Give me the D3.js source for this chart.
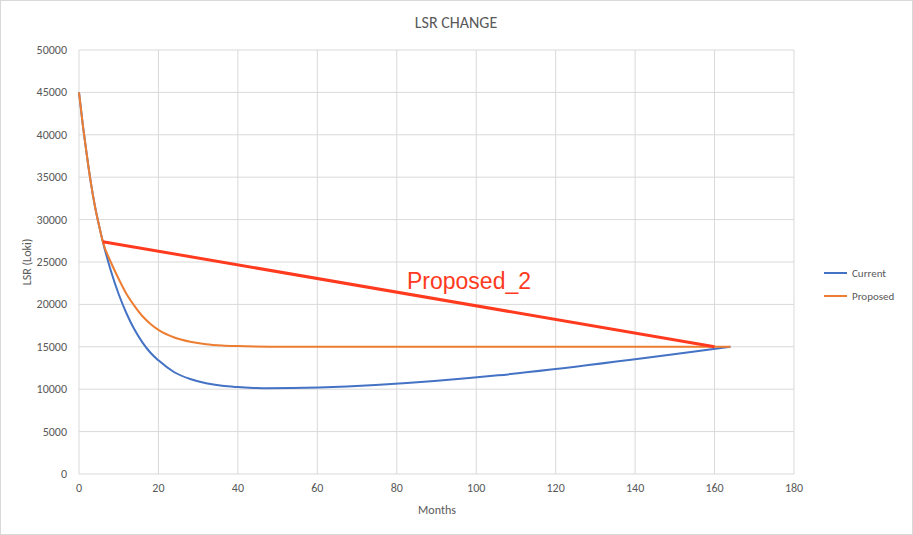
<!DOCTYPE html>
<html><head><meta charset="utf-8">
<script src="https://cdn.jsdelivr.net/npm/d3@7"></script>
<style>body{margin:0;background:#fff}text{font-family:Calibri,Carlito,"Liberation Sans",Arial,sans-serif}</style>
</head><body>
<svg id="chart" width="913" height="535"></svg>
<script>
var currentMonths = [0,1,2,3,4,5,6,8,10,12,14,16,18,20,24,28,32,36,40,44,47,164];
var currentLsr = [45000,41000,37500,34300,31600,29400,27400,24000,21200,18900,17000,15500,14300,13400,12000,11200,10700,10400,10250,10150,10100,15000];
var proposedMonths = [0,1,2,3,4,5,6,8,10,12,14,16,18,20,24,28,32,36,40,48,60,164];
var proposedLsr = [45000,41000,37500,34300,31600,29400,27400,25000,23000,21200,19800,18600,17700,17000,16100,15600,15300,15150,15080,15020,15000,15000];
var proposed2Months = [6,160];
var proposed2Lsr = [27400,15000];
var xTicks = [0,20,40,60,80,100,120,140,160,180];
var yTicks = [0,5000,10000,15000,20000,25000,30000,35000,40000,45000,50000];

var svg = d3.select("#chart");
svg.append("rect").attr("x",0.5).attr("y",0.5).attr("width",912).attr("height",534)
  .attr("fill","#fff").attr("stroke","#d9d9d9");

var x = d3.scaleLinear().domain([0,180]).range([79,794]);
var y = d3.scaleLinear().domain([0,50000]).range([474,50]);

var g = svg.append("g");
g.selectAll("line.v").data(xTicks).enter().append("line")
  .attr("x1",function(d){return x(d)}).attr("x2",function(d){return x(d)})
  .attr("y1",y(0)).attr("y2",y(50000)).attr("stroke","#d9d9d9");
g.selectAll("line.h").data(yTicks).enter().append("line")
  .attr("y1",function(d){return y(d)}).attr("y2",function(d){return y(d)})
  .attr("x1",x(0)).attr("x2",x(180)).attr("stroke","#d9d9d9");

g.selectAll("text.xt").data(xTicks).enter().append("text")
  .attr("x",function(d){return x(d)}).attr("y",y(0)+18).attr("text-anchor","middle")
  .attr("font-size",12).attr("fill","#595959").text(function(d){return d});
g.selectAll("text.yt").data(yTicks).enter().append("text")
  .attr("x",x(0)-12).attr("y",function(d){return y(d)+4}).attr("text-anchor","end")
  .attr("font-size",12).attr("fill","#595959").text(function(d){return d});

var line = d3.line().x(function(d){return x(d[0])}).y(function(d){return y(d[1])}).curve(d3.curveMonotoneX);
svg.append("path").attr("d",line(d3.zip(currentMonths,currentLsr)))
  .attr("fill","none").attr("stroke","#4472C4").attr("stroke-width",2);
svg.append("path").attr("d",line(d3.zip(proposedMonths,proposedLsr)))
  .attr("fill","none").attr("stroke","#ED7D31").attr("stroke-width",2);
svg.append("path").attr("d",d3.line().x(function(d){return x(d[0])}).y(function(d){return y(d[1])})(d3.zip(proposed2Months,proposed2Lsr)))
  .attr("fill","none").attr("stroke","#FF3A1E").attr("stroke-width",3);

svg.append("text").attr("x",407).attr("y",289).attr("font-size",23).attr("fill","#FF3A1E")
  .style("font-family","'Liberation Sans',Arial,sans-serif").text("Proposed_2");

svg.append("text").attr("x",456).attr("y",28).attr("text-anchor","middle").attr("font-size",16)
  .attr("fill","#595959").text("LSR CHANGE");
svg.append("text").attr("x",437).attr("y",514).attr("text-anchor","middle").attr("font-size",12)
  .attr("fill","#595959").text("Months");
svg.append("text").attr("transform","translate(31,262) rotate(-90)").attr("text-anchor","middle")
  .attr("font-size",12).attr("fill","#595959").text("LSR (Loki)");

var legend = [["Current","#4472C4"],["Proposed","#ED7D31"]];
var lg = svg.selectAll("g.lg").data(legend).enter().append("g")
  .attr("transform",function(d,i){return "translate(824,"+(273+i*23)+")"});
lg.append("line").attr("x1",0).attr("x2",23).attr("stroke",function(d){return d[1]}).attr("stroke-width",2);
lg.append("text").attr("x",28).attr("y",4).attr("font-size",11).attr("fill","#595959").text(function(d){return d[0]});
</script>
</body></html>
